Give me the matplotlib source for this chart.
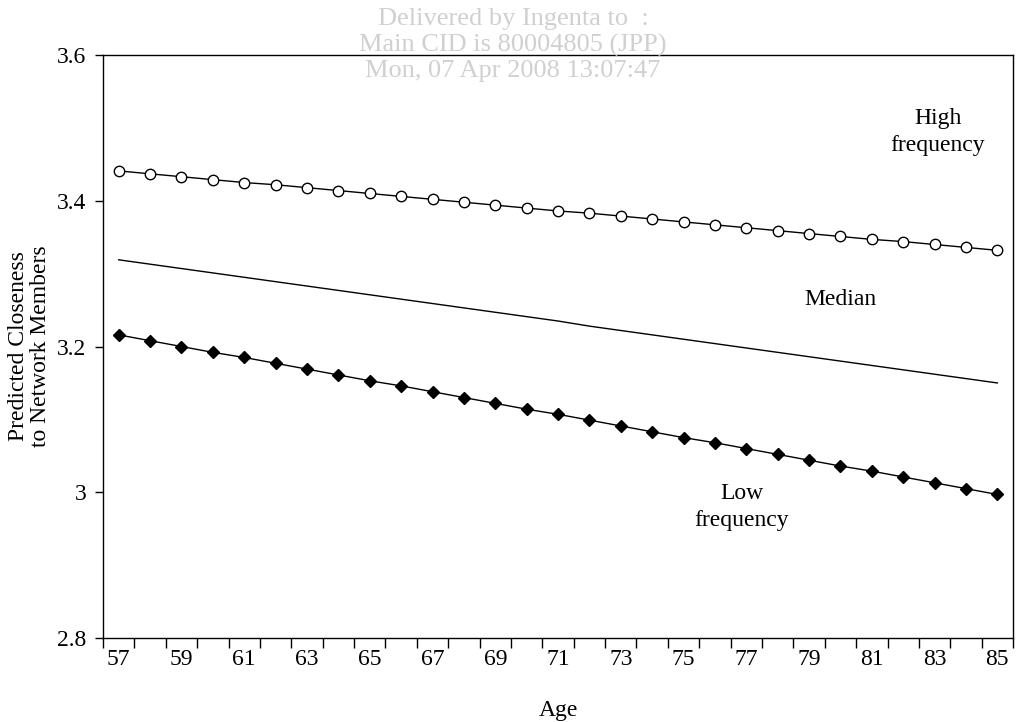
import matplotlib
matplotlib.use("Agg")
import matplotlib.pyplot as plt
import numpy as np

ages = list(range(57, 86))
high_freq = [3.441, 3.437, 3.433, 3.429, 3.425, 3.422, 3.418, 3.414, 3.410, 3.406,
             3.402, 3.398, 3.394, 3.390, 3.386, 3.383, 3.379, 3.375, 3.371, 3.367,
             3.363, 3.359, 3.355, 3.351, 3.347, 3.344, 3.340, 3.336, 3.332]
median = [3.319, 3.313, 3.307, 3.301, 3.295, 3.289, 3.283, 3.277, 3.271, 3.265,
          3.259, 3.253, 3.247, 3.241, 3.235, 3.228, 3.222, 3.216, 3.210, 3.204,
          3.198, 3.192, 3.186, 3.180, 3.174, 3.168, 3.162, 3.156, 3.150]
low_freq = [3.216, 3.208, 3.200, 3.192, 3.185, 3.177, 3.169, 3.161, 3.153, 3.146,
            3.138, 3.130, 3.122, 3.114, 3.107, 3.099, 3.091, 3.083, 3.075, 3.068,
            3.060, 3.052, 3.044, 3.036, 3.029, 3.021, 3.013, 3.005, 2.997]
y_ticks = [2.8, 3.0, 3.2, 3.4, 3.6]
y_tick_labels = ["2.8", "3", "3.2", "3.4", "3.6"]
x_tick_labels = [str(a) for a in range(57, 86, 2)]

plt.rcParams['font.family'] = ['Liberation Serif', 'DejaVu Serif']
FS = 17

fig = plt.figure(figsize=(10.31, 7.22), dpi=100)
ax = fig.add_axes([0.0999, 0.1163, 0.8827, 0.8075])

ax.plot(ages, high_freq, color='black', lw=1.0, marker='o', markersize=7.5,
        markerfacecolor='white', markeredgecolor='black', markeredgewidth=1.0, zorder=3)
ax.plot(ages, median, color='black', lw=1.0, zorder=2)
ax.plot(ages, low_freq, color='black', lw=1.0, marker='D', markersize=6,
        markerfacecolor='black', markeredgecolor='black', zorder=3)

ax.set_xlim(56.5, 85.5)
ax.set_ylim(2.8, 3.6)
ax.set_yticks(y_ticks)
ax.set_yticklabels(y_tick_labels, fontsize=FS)
ax.set_xticks(np.arange(56.5, 86.0, 1.0), minor=False)
ax.set_xticklabels([])
ax.set_xticks(list(range(57, 86, 2)), minor=True)
ax.set_xticklabels(x_tick_labels, minor=True, fontsize=FS)
ax.tick_params(axis='x', which='major', direction='out', length=7, width=1.0)
ax.tick_params(axis='x', which='minor', length=0, pad=8)
ax.tick_params(axis='y', direction='out', length=6, width=1.0, pad=6)
for s in ax.spines.values():
    s.set_linewidth(1.0)
    s.set_color('black')

ax.set_xlabel("Age", fontsize=FS)
ax.xaxis.set_label_coords(0.5, -0.106)
ax.set_ylabel("Predicted Closeness\nto Network Members", fontsize=FS, linespacing=1.05)
ax.yaxis.set_label_coords(-0.057, 0.5)

ax.text(83.1, 3.494, "High\nfrequency", fontsize=FS, ha='center', va='center', linespacing=1.35)
ax.text(80.0, 3.265, "Median", fontsize=FS, ha='center', va='center')
ax.text(76.85, 2.98, "Low\nfrequency", fontsize=FS, ha='center', va='center', linespacing=1.35)

wm = ["Delivered by Ingenta to  :", "Main CID is 80004805 (JPP)", "Mon, 07 Apr 2008 13:07:47"]
for i, t in enumerate(wm):
    fig.text(513 / 1031, 1 - (19 + 26 * i) / 722, t, fontsize=19, color='#d0d0d0',
             ha='center', va='center', zorder=0)

fig.savefig("out.png", dpi=100)
